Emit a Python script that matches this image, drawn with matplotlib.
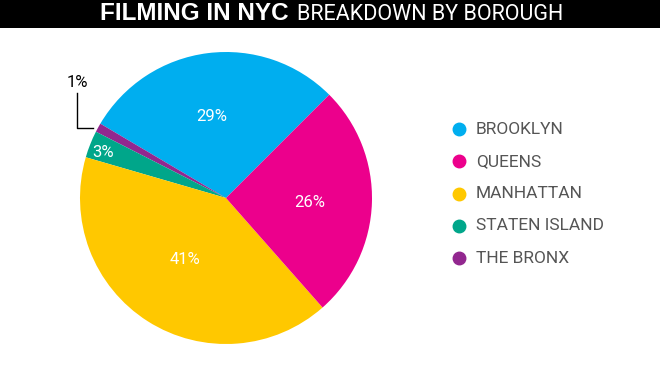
import matplotlib.pyplot as plt
from matplotlib.patches import Rectangle

# data, in drawing order (counter-clockwise from the Queens/Brooklyn edge)
boroughs = ['BROOKLYN', 'THE BRONX', 'STATEN ISLAND', 'MANHATTAN', 'QUEENS']
shares = [29, 1, 3, 41, 26]
colors = ['#00aeef', '#92278f', '#00a68a', '#ffc800', '#ec008c']

legend_order = ['BROOKLYN', 'QUEENS', 'MANHATTAN', 'STATEN ISLAND', 'THE BRONX']

W, H = 660, 370
fig = plt.figure(figsize=(W / 100, H / 100), dpi=100)
fig.patch.set_facecolor('white')

narrow = ['Roboto', 'DejaVu Sans']

# title bar
fig.patches.append(Rectangle((0, 1 - 28 / H), 1, 28 / H, transform=fig.transFigure,
                             facecolor='black', edgecolor='none', zorder=0))
t1 = fig.text(100 / W, 1 - 14 / H, 'FILMING IN NYC', color='white', fontsize=17.5,
              fontweight='bold', family=['Liberation Sans', 'DejaVu Sans'], va='center', ha='left')
fig.canvas.draw()
bb = t1.get_window_extent()
fig.text((bb.x1 + 8) / W, 1 - 14 / H, 'BREAKDOWN BY BOROUGH', color='white', fontsize=15.5,
         family=narrow, va='center', ha='left')

# pie
cx, cy, r = 226, 198, 146
ax = fig.add_axes([(cx - r) / W, (H - cy - r) / H, 2 * r / W, 2 * r / H])
ax.pie(shares, colors=colors, startangle=45, counterclock=True,
       wedgeprops=dict(linewidth=0))
ax.set_xlim(-1, 1)
ax.set_ylim(-1, 1)
ax.set_aspect('auto')
ax.axis('off')


def px(x, y):
    # pixel position in the reference -> pie data coordinates
    return ((x - cx) / r, (cy - y) / r)


# percentage labels
label_text = ['29%', '26%', '41%', '3%']
label_px = [(212, 117), (310, 203), (185, 259), (103, 153)]
for lab, (x, y) in zip(label_text, label_px):
    ax.text(*px(x, y), lab, color='white', fontsize=12, family=narrow,
            ha='center', va='center')

# 1% callout
x0, y0 = px(77, 93)
x1, y1 = px(77, 128)
x2, y2 = px(93, 128)
ax.plot([x0, x1, x2], [y0, y1, y2], color='black', lw=1, clip_on=False)
ax.text(*px(77, 83), '1%', color='black', fontsize=12, family=narrow,
        ha='center', va='center')

# legend
for i, name in enumerate(legend_order):
    yy = 1 - (129 + i * 32.3) / H
    c = colors[boroughs.index(name)]
    fig.lines.append(plt.Line2D([459 / W], [yy], marker='o', markersize=9, color=c,
                                transform=fig.transFigure))
    fig.text(476 / W, yy, name, color='#555555', fontsize=12.5,
             family=narrow, va='center', ha='left')

fig.savefig('out.png', dpi=100)
